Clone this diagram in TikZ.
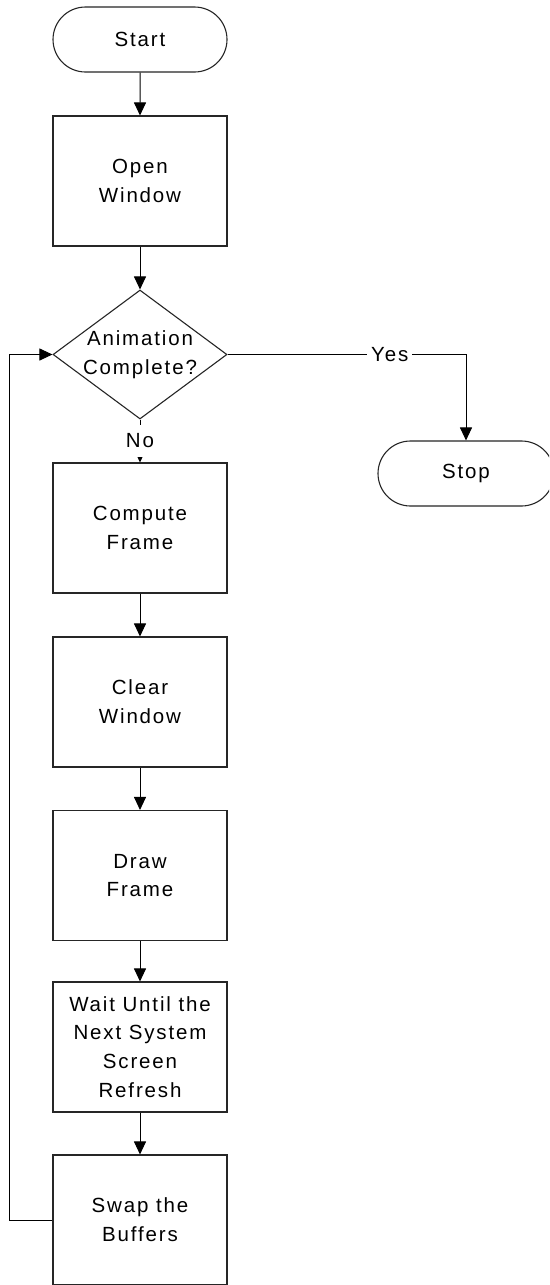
\documentclass[tikz,border=0pt]{standalone}
\usepackage{fontspec}
\setmainfont{Liberation Sans}[LetterSpace=9]
\usetikzlibrary{shapes.geometric,shapes.misc,arrows.meta}
\tikzset{
  txt/.style={font=\fontsize{20.5pt}{28.7pt}\selectfont},
  base/.style={draw=black!85, line width=1.1pt, txt, align=center, inner sep=0pt},
  term/.style={base, rounded rectangle, minimum width=174pt, minimum height=65pt},
  proc/.style={base, rectangle, minimum width=174pt, minimum height=130pt},
  dec/.style={base, diamond, aspect=1.35, minimum width=174pt, minimum height=129pt},
  conn/.style={line width=1pt, -{Triangle[length=13pt,width=12pt]}},
  lbl/.style={fill=white, txt, inner sep=0pt, minimum height=32pt}
}
\begin{document}
\begin{tikzpicture}[x=1pt,y=-1pt]
\clip (0,0) rectangle (549,1285);
\fill[white] (0,0) rectangle (549,1285);
\node[term] (start) at (140,39.5) {Start};
\node[proc] (open) at (140,181) {Open\\Window};
\node[dec, label={[txt, align=center]center:Animation\\Complete?}] (d) at (140,354.5) {};
\node[proc] (comp) at (140,528) {Compute\\Frame};
\node[proc] (clear) at (140,702) {Clear\\Window};
\node[proc] (drawf) at (140,875.5) {Draw\\Frame};
\node[proc] (wait) at (140,1047) {Wait Until the\\Next System\\Screen\\Refresh};
\node[proc] (swap) at (140,1220) {Swap the\\Buffers};
\node[term, minimum width=176pt] (stop) at (466,473.5) {Stop};
\coordinate (loopc) at (9,1220);

\draw[conn] (start) -- (open);
\draw[conn] (open) -- (d);
\draw[conn] (d.south) -- node[lbl] {No} (comp.north);
\draw[conn] (comp) -- (clear);
\draw[conn] (clear) -- (drawf);
\draw[conn] (drawf) -- (wait);
\draw[conn] (wait) -- (swap);
\draw[conn] (d.east) -| node[lbl, pos=0.34, inner xsep=4pt] {Yes} (stop.north);
\draw[conn] (swap.west) -- (loopc) |- (d.west);
\end{tikzpicture}
\end{document}
